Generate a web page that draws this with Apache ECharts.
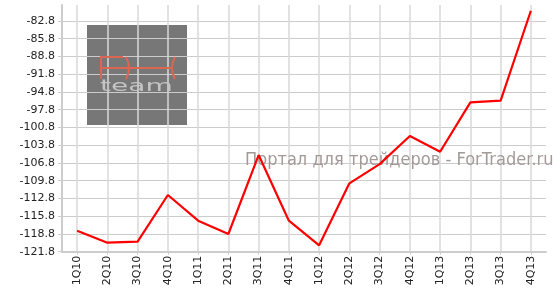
<!DOCTYPE html>
<html>
<head>
<meta charset="utf-8">
<script src="https://cdn.jsdelivr.net/npm/echarts@6/dist/echarts.min.js"></script>
<style>
html,body{margin:0;padding:0;background:#fff;}
#chart{width:560px;height:300px;}
</style>
</head>
<body>
<div id="chart"></div>
<script>
const categories = ['1Q10','2Q10','3Q10','4Q10','1Q11','2Q11','3Q11','4Q11','1Q12','2Q12','3Q12','4Q12','1Q13','2Q13','3Q13','4Q13'];
const values = [-118.25,-120.28,-120.11,-112.22,-116.56,-118.81,-105.46,-116.56,-120.72,-110.24,-107.0,-102.25,-104.9,-96.55,-96.28,-81.07];
const yMin = -121.8;
const yMax = -80.1;
const yStep = 3;
const watermark = 'Портал для трейдеров - ForTrader.ru';
const logoText = 'team';

const chart = echarts.init(document.getElementById('chart'), null, {renderer:'canvas'});
const fx = '#dd6650';
chart.setOption({
  animation:false,
  grid:{left:62,right:14,top:5,height:246.7,containLabel:false},
  xAxis:{
    type:'category',
    data:categories,
    boundaryGap:true,
    axisLine:{show:true,lineStyle:{color:'#cccccc',width:2}},
    axisTick:{show:true,alignWithLabel:true,length:3,lineStyle:{color:'#cccccc'}},
    axisLabel:{rotate:90,interval:0,margin:4,color:'#222',fontFamily:'DejaVu Sans',fontSize:11},
    splitLine:{show:true,alignWithLabel:true,lineStyle:{color:'#d8d8d8',width:1.5}}
  },
  yAxis:{
    type:'value',
    min:yMin,max:yMax,interval:yStep,
    axisLine:{show:true,lineStyle:{color:'#cccccc',width:2}},
    axisTick:{show:true,length:4,lineStyle:{color:'#cccccc'}},
    axisLabel:{showMaxLabel:false,margin:7,color:'#222',fontFamily:'DejaVu Sans',fontSize:11,formatter:v=>v.toFixed(1)},
    splitLine:{show:true,showMaxLine:false,lineStyle:{color:'#cccccc',width:1}}
  },
  graphic:[
    {type:'rect',z:-10,silent:true,shape:{x:87,y:25,width:100,height:100},style:{fill:'#777777'}},
    {type:'line',z:3,shape:{x1:101,y1:57,x2:123,y2:57},style:{stroke:fx,lineWidth:2}},
    {type:'line',z:3,shape:{x1:101,y1:56,x2:101,y2:79},style:{stroke:fx,lineWidth:2}},
    {type:'line',z:3,shape:{x1:101,y1:68,x2:173,y2:68},style:{stroke:fx,lineWidth:2}},
    {type:'bezierCurve',z:3,shape:{x1:126,y1:57,x2:126,y2:79,cpx1:132,cpy1:68},style:{stroke:fx,lineWidth:2,fill:'none'}},
    {type:'bezierCurve',z:3,shape:{x1:175,y1:57,x2:175,y2:79,cpx1:169,cpy1:68},style:{stroke:fx,lineWidth:2,fill:'none'}},
    {type:'text',z:3,x:100,y:95,scaleX:1.65,scaleY:0.9,style:{text:logoText,font:'17px "DejaVu Sans"',fill:'#c4c4c4',verticalAlign:'bottom',align:'left'}},
    {type:'text',z:1,x:245,y:161,scaleX:0.955,style:{text:watermark,font:'17px "DejaVu Sans"',fill:'#a39a98',verticalAlign:'middle',align:'left'}}
  ],
  series:[{
    type:'line',
    data:values,
    symbol:'none',
    z:5,
    lineStyle:{color:'#ff0000',width:2.2},
    itemStyle:{color:'#ff0000'}
  }]
});
</script>
</body>
</html>
